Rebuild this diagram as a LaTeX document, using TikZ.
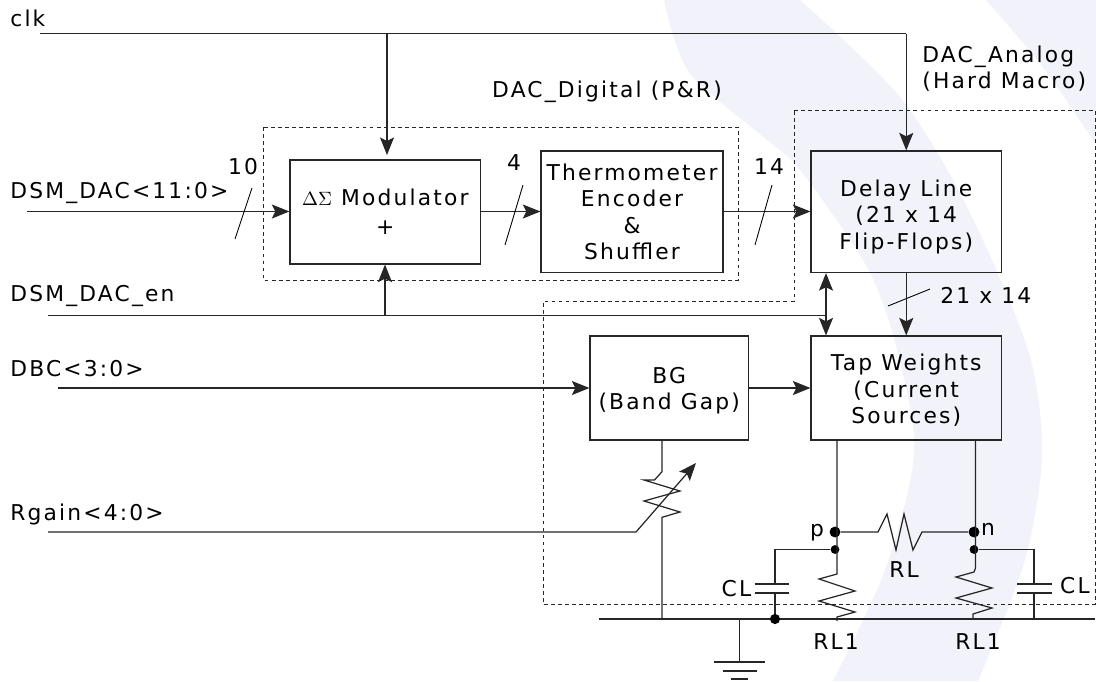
\documentclass[tikz,border=0pt]{standalone}
\usepackage{fontspec}
\setmainfont[LetterSpace=10]{DejaVu Sans}
\usetikzlibrary{arrows.meta}
\definecolor{palebg}{HTML}{F2F3FA}
\tikzset{
  wire/.style={line width=0.7pt,draw=black!85},
  sig/.style={wire,-{Stealth[length=10pt,width=8pt,inset=2pt]}},
  bisig/.style={wire,{Stealth[length=10pt,width=8pt,inset=2pt]}-{Stealth[length=10pt,width=8pt,inset=2pt]}},
  blockbox/.style={draw=black!85,line width=0.7pt,inner sep=0pt,align=center,minimum height=2.08cm,minimum width=3.81cm},
  macrobox/.style={draw=black!85,line width=0.5pt,dash pattern=on 2.2pt off 1.8pt},
  sigtext/.style={inner sep=0pt,anchor=west},
  numtext/.style={inner sep=0pt},
  dotnode/.style={circle,fill=black,inner sep=0pt,minimum size=#1},
  tick/.style={line width=0.5pt}
}
\begin{document}
\begin{tikzpicture}[x=0.02cm,y=-0.02cm,font=\fontsize{12.4}{15}\selectfont]
\useasboundingbox (0,0) rectangle (1096,681);
\begin{scope}
\clip (0,0) rectangle (1096,681);
\fill[palebg] plot[smooth] coordinates {(664,0) (689,72) (767,140) (800,170) (867,267) (897,350) (914,453) (885,570) (833,681)}
  -- plot[smooth] coordinates {(978,681) (1025,560) (1042,453) (1028,350) (967,207) (900,97) (800,0)} -- cycle;
\fill[palebg] plot[smooth] coordinates {(986,0) (1045,70) (1096,145)} -- (1096,0) -- cycle;
\end{scope}

\node[blockbox] (modulator) at (385.25,212) {{\fontsize{10.5}{15}\selectfont$\Delta\Sigma$} Modulator\\[1.5pt]+};
\node[blockbox,minimum width=3.64cm,minimum height=2.43cm] (thermo) at (632,211.75) {Thermometer\\Encoder\\\&\\Shuffler};
\node[blockbox,minimum height=2.43cm] (delay) at (906.25,211.75) {\rule{0pt}{15pt}Delay Line\\(21 x 14\\Flip-Flops)};
\node[blockbox] (tap) at (906.25,388) {\rule{0pt}{12pt}Tap Weights\\(Current\\Sources)};
\node[blockbox,minimum width=3.17cm] (bandgap) at (669.25,388) {\rule{0pt}{12.6pt}BG\\(Band Gap)};

\draw[macrobox] (263,127) rectangle (738,280);
\draw[macrobox] (794,110) -- (1095,110) -- (1095,604) -- (543,604) -- (543,301) -- (794,301) -- cycle;

\node[sigtext] (clktext) at (10,18) {clk};
\node[sigtext] (dsmtext) at (10,193) {DSM\_DAC<11:0>};
\node[sigtext] (entext) at (10,296) {DSM\_DAC\_en};
\node[sigtext] (dbctext) at (10,369) {DBC<3:0>};
\node[sigtext] (rgaintext) at (10,514.5) {Rgain<4:0>};
\node[numtext] (digitaltext) at (607,92) {DAC\_Digital (P\&R)};
\node[sigtext,align=left] (analogtext) at (922,68.5) {DAC\_Analog\\(Hard Macro)};
\node[numtext] (tentext) at (243,167) {10};
\node[numtext] (fourtext) at (514,163) {4};
\node[numtext] (fourteentext) at (769,167) {14};
\node[sigtext] (widthtext) at (940,295) {21 x 14};
\node[numtext] (ptext) at (817,533) {p};
\node[numtext] (ntext) at (988,529) {n};
\node[numtext] (rltext) at (904,570) {RL};
\node[numtext] (rlonetext) at (836,642) {RL1};
\node[numtext] (rltwotext) at (978,642) {RL1};
\node[numtext] (clonetext) at (736.5,589) {CL};
\node[numtext] (cltwotext) at (1075,586) {CL};

\coordinate (clkin) at (40,33.5);
\coordinate (clktap) at (387,33.5);
\coordinate (clkmod) at (387,155);
\coordinate (clkcorner) at (906.25,33.5);
\draw[wire] (clkin) -- (clkcorner);
\draw[sig] (clktap) -- (clkmod);
\draw[sig] (clkcorner) -- (delay.north);

\coordinate (dsmin) at (27,211.5);
\draw[sig] (dsmin) -- (dsmin -| modulator.west);
\draw[sig] (modulator.east |- dsmin) -- (thermo.west |- dsmin);
\draw[sig] (thermo.east |- dsmin) -- (delay.west |- dsmin);
\draw[tick] (252,188) -- (235,239);
\draw[tick] (523,185) -- (505,245);
\draw[tick] (772,185) -- (755,245);

\coordinate (enin) at (48,315.5);
\coordinate (entap) at (385,315.5);
\coordinate (enend) at (826,315.5);
\draw[wire] (enin) -- (enend);
\draw[sig] (entap) -- (entap |- modulator.south);
\draw[bisig] (enend |- delay.south) -- (enend |- tap.north);

\draw[sig] (delay.south) -- (tap.north);
\draw[tick] (888,306) -- (930,289);

\coordinate (dbcin) at (58,388);
\draw[sig] (dbcin) -- (bandgap.west);
\draw[sig] (bandgap.east) -- (tap.west);

\coordinate (bgout) at (662,440);
\coordinate (busleft) at (599,619);
\coordinate (busright) at (1095,619);
\coordinate (bgbus) at (662,619);
\draw[wire] (busleft) -- (busright);
\draw[wire] (bgout) -- (662,471.7) -- (654.5,480) -- (644,480) -- (680,491) -- (644,501) -- (680,512) -- (662,517.3) -- (bgbus);
\coordinate (rgainin) at (48,532);
\coordinate (rgainbend) at (636,532);
\coordinate (rgainend) at (696,463);
\draw[sig] (rgainin) -- (rgainbend) -- (rgainend);

\node[dotnode=6.2pt] (nodep) at (835,532) {};
\node[dotnode=5pt] (nodepb) at (835,549.5) {};
\node[dotnode=6.2pt] (noden) at (974,532) {};
\node[dotnode=5pt] (nodenb) at (974,549.5) {};
\node[dotnode=5.8pt] (nodebus) at (775,619) {};

\coordinate (tapp) at (837,440);
\coordinate (tapn) at (975.5,440);
\draw[wire] (tapp) -- (837,574) -- (819,579) -- (855,591) -- (819,601) -- (855,612) -- (837,617) -- (837,621);
\draw[wire] (tapn) -- (975.5,568) -- (974,572) -- (956,577) -- (992,588) -- (956,598) -- (992,608) -- (973,614) -- (973,619);
\draw[wire] (nodep) -- (878,532) -- (887,514) -- (896,550) -- (904,514) -- (913,550) -- (922,532) -- (noden);

\coordinate (capleft) at (775,549.5);
\coordinate (capright) at (1034,549.5);
\draw[wire] (nodepb) -- (capleft) -- (775,584);
\draw[wire] (754.5,584) -- (789,584);
\draw[wire] (754.5,593) -- (789,593);
\draw[wire] (775,593) -- (nodebus);
\draw[wire] (nodenb) -- (capright) -- (1034,584);
\draw[wire] (1017,584) -- (1052,584);
\draw[wire] (1017,593) -- (1052,593);
\draw[wire] (1034,593) -- (1034,619);

\coordinate (gndtop) at (739.5,619);
\coordinate (gndbot) at (739.5,662);
\draw[wire] (gndtop) -- (gndbot);
\draw[wire] (714,662) -- (765,662);
\draw[wire] (723,671) -- (757,671);
\draw[wire] (731,679) -- (748,679);
\end{tikzpicture}
\end{document}
